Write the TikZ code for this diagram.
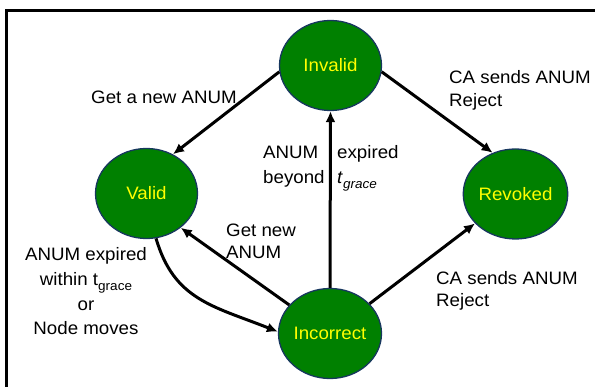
\documentclass[tikz,border=0pt]{standalone}
\usepackage{fontspec}
\setmainfont{Liberation Sans}[FakeStretch=1.04]
\usetikzlibrary{shapes.geometric,arrows.meta}
\definecolor{stategreen}{RGB}{0,128,0}
\definecolor{stateedge}{RGB}{23,55,94}
\definecolor{stateyellow}{RGB}{255,255,0}
\newcommand\gsub[1]{\raisebox{-4.5pt}{\fontsize{13}{13}\selectfont #1}}
\newcommand\fstrut{\rule{0pt}{13.5pt}}
\begin{document}
\begin{tikzpicture}[x=1pt,y=-1pt,
  state/.style={ellipse, draw=stateedge, line width=1.3pt, fill=stategreen,
    minimum width=102pt, minimum height=90pt, inner sep=0pt,
    text=stateyellow, font=\fontsize{18}{22}\selectfont},
  trans/.style={line width=3pt, -{Latex[length=11pt,width=10pt]}},
  lbl/.style={inner sep=0pt, anchor=north west, align=left},
]
\useasboundingbox (0,0) rectangle (595,387);
% frame
\draw[line width=3.3pt] (6.6,390) -- (6.6,10.8) -- (598,10.8);

% states
\node[state] (inv) at (330.5,65.5) {Invalid};
\node[state] (val) at (146.5,193.5) {Valid};
\node[state] (rev) at (515.5,194) {Revoked};
\node[state] (inc) at (330,333.5) {Incorrect};

% transitions
\draw[trans] (inv.187) -- (val.56);
\draw[trans] (inv.-7) -- (rev.119);
\draw[trans] (inc.north) -- (inv.south);
\draw[trans] (inc.145) -- (val.-45);
\draw[trans] (inc.37) -- (rev.216);
\draw[trans] (val.-78) .. controls (174,300) and (213,306) .. (inc.178);

% labels
\node[lbl, font=\fontsize{18}{22.5}\selectfont] (l1) at (91,89.5) {\fstrut Get a new ANUM};
\node[lbl, font=\fontsize{18}{23}\selectfont] (l2) at (449,70) {\fstrut CA sends ANUM\\Reject};
\node[lbl, font=\fontsize{18}{25.5}\selectfont] (l3) at (263,144.5) {\fstrut ANUM\\beyond};
\node[lbl, font=\fontsize{18}{25.5}\selectfont] (l4) at (337,144.5) {\fstrut expired\\\textit{t}\gsub{\itshape grace}};
\node[lbl, font=\fontsize{18}{22.5}\selectfont] (l5) at (226,222.5) {\fstrut Get new\\ANUM};
\node[inner sep=0pt, anchor=north, align=center, font=\fontsize{18}{24.7}\selectfont] (l6) at (86,247.2)
  {\fstrut ANUM expired\\within t\gsub{grace}\\or\\Node moves};
\node[lbl, font=\fontsize{18}{22}\selectfont] (l7) at (436,271) {\fstrut CA sends ANUM\\Reject};
\end{tikzpicture}
\end{document}
